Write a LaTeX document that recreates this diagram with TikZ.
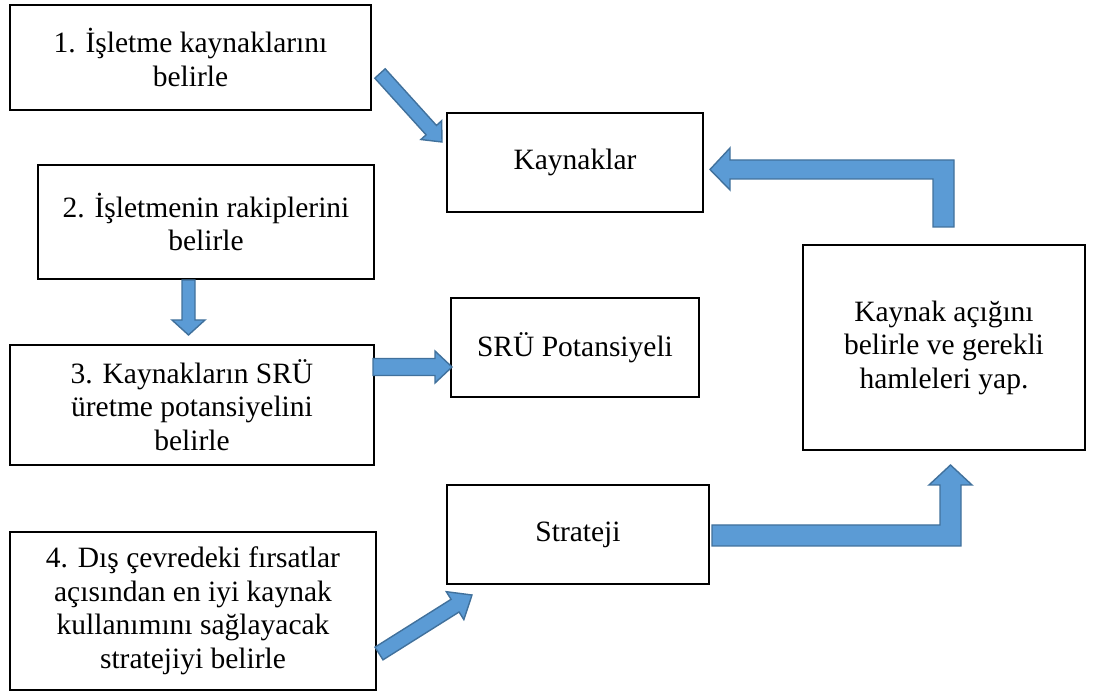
\documentclass[tikz,border=0pt]{standalone}
\usepackage{fontspec}
\setmainfont{Liberation Serif}
\usetikzlibrary{calc}

\definecolor{arrowfill}{HTML}{5B9BD5}
\definecolor{arrowline}{HTML}{41719C}

\tikzset{
  box/.style={draw=black, line width=2pt, align=center, inner sep=0pt,
              font=\fontsize{29.5}{33.5}\selectfont},
  blockarrow/.style={fill=arrowfill, draw=arrowline, line width=1.4pt, line join=miter},
}

% straight block arrow: #1 tail centre, #2 tip, #3 half shaft width,
% #4 half head width, #5 head length
\newcommand{\blockarrow}[5]{%
  \coordinate (hb) at ($(#2)!#5!(#1)$);
  \draw[blockarrow]
    ($(#1)!#3!90:(#2)$) -- ($(hb)!#3!-90:(#1)$) -- ($(hb)!#4!-90:(#1)$) --
    (#2) --
    ($(hb)!#4!90:(#1)$) -- ($(hb)!#3!90:(#1)$) -- ($(#1)!#3!-90:(#2)$) -- cycle;
}

\begin{document}
\begin{tikzpicture}[x=1pt,y=-1pt]
  \useasboundingbox (0,0) rectangle (1096,692);

  % left column of steps
  \node[box, minimum width=361pt, minimum height=105pt] (s1) at (190.5,57.5)
    {1. İşletme kaynaklarını\\belirle};
  \node[box, minimum width=336pt, minimum height=114pt] (s2) at (206,222)
    {2. İşletmenin rakiplerini\\belirle};
  \node[box, minimum width=364pt, minimum height=120pt] (s3) at (192,405)
    {3. Kaynakların SRÜ\\üretme potansiyelini\\belirle};
  \node[box, minimum width=366pt, minimum height=158pt] (s4) at (193,611)
    {4. Dış çevredeki fırsatlar\\açısından en iyi kaynak\\kullanımını sağlayacak\\stratejiyi belirle};

  % results
  \node[box, minimum width=256pt, minimum height=99pt] (kay) at (575,162.5) {Kaynaklar};
  \node[box, minimum width=248pt, minimum height=99pt] (sru) at (575,347.5) {SRÜ Potansiyeli};
  \node[box, minimum width=262pt, minimum height=99pt] (str) at (578,534.5) {Strateji};
  \node[box, minimum width=282pt, minimum height=205pt] (gap) at (944,347.5)
    {Kaynak açığını\\belirle ve gerekli\\hamleleri yap.};

  % straight arrows
  \coordinate (a1t) at (380,73.5);  \coordinate (a1h) at (442,142);
  \blockarrow{a1t}{a1h}{7pt}{14pt}{16pt}
  \coordinate (a2t) at (188.5,280); \coordinate (a2h) at (188.5,335);
  \blockarrow{a2t}{a2h}{6.5pt}{16.5pt}{15pt}
  \coordinate (a3t) at (373,367); \coordinate (a3h) at (452,367);
  \blockarrow{a3t}{a3h}{8.5pt}{16pt}{17pt}
  \coordinate (a4t) at (379,653.5); \coordinate (a4h) at (472,595);
  \blockarrow{a4t}{a4h}{7.5pt}{16.5pt}{20pt}

  % bent arrow from the gap box back to the resources
  \draw[blockarrow] (954,227) -- (954,160) -- (730,160) -- (730,148) -- (710,169.5)
    -- (730,190) -- (730,179) -- (933,179) -- (933,227) -- cycle;

  % bent arrow from strategy up to the gap box
  \draw[blockarrow] (712,525) -- (940,525) -- (940,485) -- (929,485) -- (950.5,465)
    -- (972,485) -- (961,485) -- (961,546) -- (712,546) -- cycle;
\end{tikzpicture}
\end{document}
